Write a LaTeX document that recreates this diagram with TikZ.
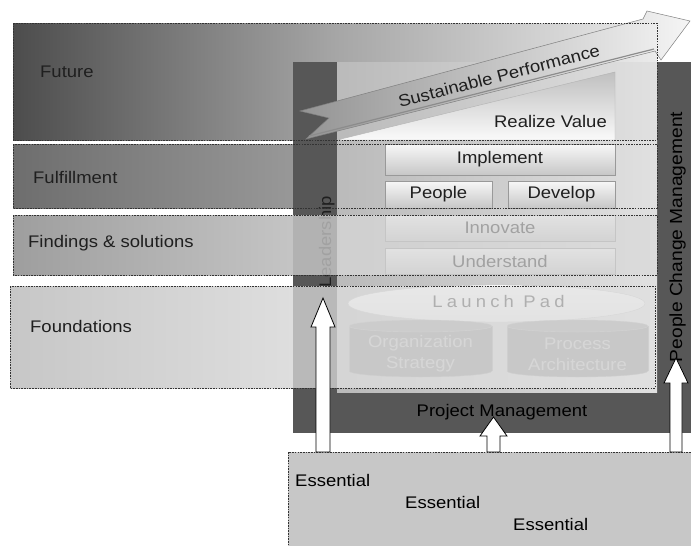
\documentclass[tikz,border=0pt]{standalone}
\usepackage{fontspec}
\usetikzlibrary{shapes.geometric}
\newfontfamily\lf{Liberation Sans}[FakeStretch=1.1]
\definecolor{framegray}{gray}{0.34}
\definecolor{txt}{gray}{0.12}
\begin{document}
\begin{tikzpicture}[x=1pt,y=-1pt,
  lbl/.style={font=\lf\fontsize{16.8}{21}\selectfont, text=txt, inner sep=0pt},
  band/.style={draw=black!80, dash pattern=on 1.6pt off 1.1pt, line width=0.7pt},
  ibox/.style={lbl, draw=black!40, line width=0.4pt, top color=black!3, bottom color=black!22},
  cylside/.style={fill=black!45, draw=black!35, line width=0.4pt},
  cyltop/.style={fill=black!40, draw=black!30, line width=0.4pt},
  blockarrow/.style={fill=white, draw=black, line width=0.8pt, line join=miter},
]
\useasboundingbox (0,0) rectangle (691,546);
\fill[white] (0,0) rectangle (691,546);
% bands (left parts / full)
\shade[left color=black!70, right color=black!8, middle color=black!35] (13,23) rectangle (657,140);
\shade[left color=black!57, right color=black!22, middle color=black!38] (13,144) rectangle (657,208);
\shade[left color=black!38, right color=black!23] (13,215) rectangle (293,275);
\shade[left color=black!22, right color=black!13] (10,286) rectangle (293,388);
% frame
\fill[framegray] (293,62) rectangle (693,433);
\shade[left color=black!27, right color=black!12] (337,62) rectangle (657,392);
\node[lbl, rotate=90, anchor=base, text=black!88] (lead) at (331,242) {Leadership};
% realize value wedge
\shadedraw[top color=black!25, bottom color=black!2, draw=black!30, line width=0.4pt] (337,140) -- (615,72) -- (615,140) -- cycle;
\node[lbl, anchor=base east] (realize) at (607,127) {Realize Value};
% boxes
\node[ibox, minimum width=230pt, minimum height=31pt] (impl) at (500,159.5) {Implement};
\node[ibox, minimum width=107pt, minimum height=27pt] (people) at (438.5,194.5) {People};
\node[ibox, minimum width=107pt, minimum height=27pt] (develop) at (561.5,194.5) {Develop};
\node[ibox, minimum width=230pt, minimum height=26pt] (innov) at (500,228) {Innovate};
\node[ibox, minimum width=230pt, minimum height=26pt] (under) at (500,261) {Understand};
% launch pad
\node[ellipse, minimum width=297pt, minimum height=37pt, inner sep=0pt, top color=white, bottom color=black!8, draw=black!25, line width=0.4pt] (pad) at (496.5,303.5) {};
\node[lbl, anchor=base, text=black!80] (padtext) at (498.5,307) {\addfontfeatures{LetterSpace=25}Launch Pad};
% cylinders
\filldraw[cylside] (420.5,371) ellipse [x radius=71.5, y radius=6];
\fill[black!45] (349,326) rectangle (492,371);
\draw[black!35, line width=0.4pt] (349,326) -- (349,371) (492,326) -- (492,371);
\filldraw[cyltop] (420.5,326) ellipse [x radius=71.5, y radius=6];
\node[lbl, align=center, text=black!25] (org) at (420.5,354) {Organization\\Strategy};
\filldraw[cylside] (577.5,371) ellipse [x radius=70.5, y radius=6];
\fill[black!45] (507,326) rectangle (648,371);
\draw[black!35, line width=0.4pt] (507,326) -- (507,371) (648,326) -- (648,371);
\filldraw[cyltop] (577.5,326) ellipse [x radius=70.5, y radius=6];
\node[lbl, align=center, text=black!25] (proc) at (577.5,354) {Process\\Architecture};
% sustainable performance arrow
\shadedraw[left color=black!42, right color=black!4, draw=black!50, line width=0.5pt]
  (300,111) -- (643,19) -- (647,11) -- (690,21) -- (661,60) -- (655,51) -- (306,139) -- (329,118) -- cycle;
\draw[black!45, line width=1.2pt] (309,136) -- (654,49);
\node[lbl, rotate=14.5] (sust) at (499,76) {Sustainable Performance};
% overlays of light bands
\fill[black!15, fill opacity=0.7] (293,215) rectangle (657,275);
\fill[black!12, fill opacity=0.72] (293,286) rectangle (655,388);
% band borders
\draw[band] (13,23) rectangle (657,140);
\draw[band] (13,144) rectangle (657,208);
\draw[band] (13,215) rectangle (657,275);
\draw[band] (10,286) rectangle (655,388);
\node[lbl, anchor=base west] (future) at (40,77) {Future};
\node[lbl, anchor=base west] (fulfil) at (33,183) {Fulfillment};
\node[lbl, anchor=base west] (findings) at (28,247) {Findings \& solutions};
\node[lbl, anchor=base west] (found) at (30,332) {Foundations};
% frame texts
\node[lbl, anchor=base, text=black] (pm) at (502,416) {Project Management};
\node[lbl, rotate=90, anchor=base, text=black, font=\lf\fontsize{17.5}{21}\selectfont] (pcm) at (682,237) {People Change Management};
% bottom box
\draw[band, fill=black!22] (288,452) rectangle (693,548);
\node[lbl, anchor=base west, text=black] (ess1) at (295,486) {Essential};
\node[lbl, anchor=base west, text=black] (ess2) at (405,508) {Essential};
\node[lbl, anchor=base west, text=black] (ess3) at (513,530) {Essential};
% block arrows
\draw[blockarrow] (316,452) -- (316,327) -- (311,327) -- (323,298) -- (335,327) -- (330,327) -- (330,452) -- cycle;
\draw[blockarrow] (487,452) -- (487,436) -- (480,436) -- (493.5,417) -- (507,436) -- (500,436) -- (500,452) -- cycle;
\draw[blockarrow] (670,452) -- (670,383) -- (664,383) -- (676,358) -- (688,383) -- (682,383) -- (682,452) -- cycle;
\end{tikzpicture}
\end{document}
